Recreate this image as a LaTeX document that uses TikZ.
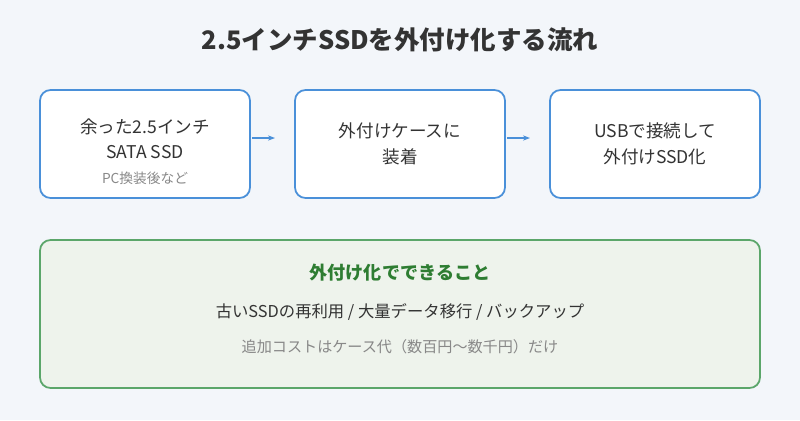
\documentclass[tikz,border=0pt]{standalone}
\usepackage{fontspec}
\setmainfont{Noto Sans CJK JP}
\usetikzlibrary{arrows.meta}
\definecolor{bgc}{HTML}{F3F6FA}
\definecolor{stepc}{HTML}{4A90D9}
\definecolor{notec}{HTML}{5BA66A}
\definecolor{notefill}{HTML}{EEF3EC}
\definecolor{textc}{HTML}{333333}
\definecolor{greyc}{HTML}{888888}
\definecolor{titlec}{HTML}{2E7D32}
\begin{document}
\begin{tikzpicture}[x = 0.2mm, y = -0.2mm, % pixel grid
                > = {Stealth[length=4pt]},
                semithick
            ]

            \tikzset{stage/.style = {draw = stepc, fill = white, rounded corners = 6pt,
            line width = 1pt, minimum width = 42mm, minimum height = 21.6mm,
            align = center, text = textc, font = \fontsize{10}{14.5}\selectfont},
            link/.style = {->, draw = stepc, line width = 0.7pt}}

            \fill[bgc] (0,0) rectangle (800,420);
            \node[font = \bfseries\fontsize{14.5}{16}\selectfont, text = textc] (title) at (400,40) {2.5インチSSDを外付け化する流れ};

            \node[stage] (s1) at (145,144) {};
            \node[text = textc, font = \fontsize{10}{14.5}\selectfont, align = center] (s1t) at (145,139) {余った2.5インチ\\SATA SSD};
            \node[text = greyc, font = \fontsize{7.8}{10}\selectfont] (s1n) at (145,178) {PC換装後など};
            \node[stage] (s2) at (400,144) {外付けケースに\\装着};
            \node[stage] (s3) at (655,144) {USBで接続して\\外付けSSD化};

            \coordinate (b1) at (252,138); \coordinate (a1) at (275,138);
            \coordinate (b2) at (507,138); \coordinate (a2) at (530,138);
            \draw[link] (b1) -- (a1); \draw[link] (b2) -- (a2);

            \node[draw = notec, fill = notefill, rounded corners = 6pt, line width = 1pt,
            minimum width = 144mm, minimum height = 29.6mm] (note) at (400,314) {};
            \node[text = titlec, font = \bfseries\fontsize{10.3}{12}\selectfont] (n1) at (400,273) {外付け化でできること};
            \node[text = textc, font = \fontsize{9.3}{11}\selectfont] (n2) at (400,312) {古いSSDの再利用 / 大量データ移行 / バックアップ};
            \node[text = greyc, font = \fontsize{8.6}{10}\selectfont] (n3) at (400,347) {追加コストはケース代（数百円〜数千円）だけ};
\end{tikzpicture}
\end{document}
